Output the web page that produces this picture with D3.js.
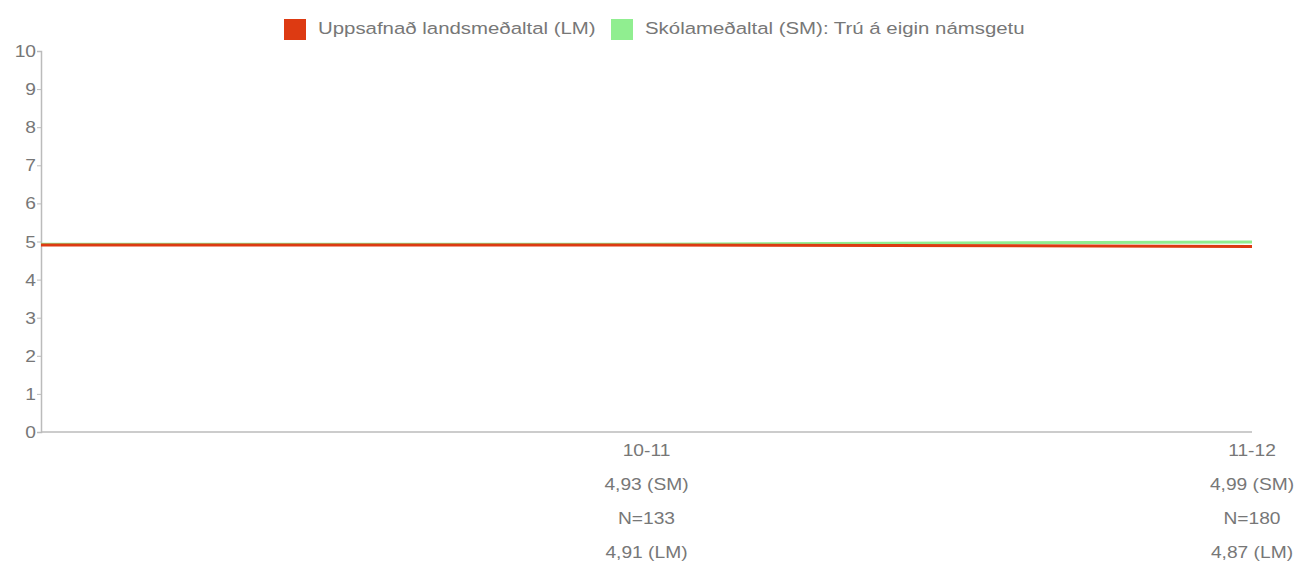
<!DOCTYPE html>
<html>
<head>
<meta charset="utf-8">
<script src="https://cdn.jsdelivr.net/npm/d3@7"></script>
<style>
  body { margin: 0; background: #fff; }
  svg { font-family: "Liberation Sans", Arial, Helvetica, sans-serif; }
</style>
</head>
<body>
<svg id="chart" width="1297" height="563"></svg>
<script>
// first category is an unlabeled lead-in point
const categories = ['', '10-11', '11-12'];
const lmValues = [4.91, 4.91, 4.87];
const smValues = [4.93, 4.93, 4.99];
const nCounts = [null, 133, 180];
const yTicks = [0, 1, 2, 3, 4, 5, 6, 7, 8, 9, 10];
const seriesNames = ['Uppsafnað landsmeðaltal (LM)', 'Skólameðaltal (SM): Trú á eigin námsgetu'];
const seriesColors = ['#dd3a12', '#90ee90'];

const fmt = v => v.toFixed(2).replace('.', ',');

const width = 1297;
const height = 563;
const margin = { top: 51, right: 45, bottom: 131, left: 41 };
const stretch = 1.2; // the source text is drawn a bit wide

const svg = d3.select('#chart');

// text helper, stretched horizontally around its anchor
const addText = (x, y, str, size, anchor) => svg.append('text')
    .attr('transform', `translate(${x},${y}) scale(${stretch},1)`)
    .attr('text-anchor', anchor)
    .attr('fill', '#777')
    .attr('font-size', size)
    .text(str);

const x = d3.scalePoint()
    .domain(categories.map((c, i) => i))
    .range([margin.left, width - margin.right]);

const y = d3.scaleLinear()
    .domain([0, 10])
    .range([height - margin.bottom, margin.top]);

// y axis
const yAxis = svg.append('g')
    .attr('transform', `translate(${margin.left},0)`)
    .call(d3.axisLeft(y).tickValues(yTicks).tickSize(4).tickFormat(''));
yAxis.select('.domain').attr('stroke', '#bbb').attr('stroke-width', 1.5);
yAxis.selectAll('.tick line').attr('stroke', '#bbb');

yTicks.forEach(t => addText(margin.left - 5, y(t) + 6, d3.format('d')(t), 16, 'end'));

// x axis line
svg.append('line')
    .attr('x1', margin.left)
    .attr('x2', x(categories.length - 1))
    .attr('y1', y(0))
    .attr('y2', y(0))
    .attr('stroke', '#bbb')
    .attr('stroke-width', 1.5);

// category labels with values below
categories.forEach((c, i) => {
  if (!c) return;
  const rows = [c, fmt(smValues[i]) + ' (SM)', 'N=' + nCounts[i], fmt(lmValues[i]) + ' (LM)'];
  rows.forEach((t, r) => addText(x(i), y(0) + 24 + r * 34, t, 16, 'middle'));
});

const line = d3.line()
    .x((d, i) => x(i))
    .y(d => y(d));

svg.append('path')
    .datum(smValues)
    .attr('fill', 'none')
    .attr('stroke', seriesColors[1])
    .attr('stroke-width', 3)
    .attr('d', line);

svg.append('path')
    .datum(lmValues)
    .attr('fill', 'none')
    .attr('stroke', seriesColors[0])
    .attr('stroke-width', 3)
    .attr('d', line);

// legend
const legendX = [284, 611];
seriesNames.forEach((name, i) => {
  svg.append('rect')
      .attr('x', legendX[i])
      .attr('y', 19)
      .attr('width', 22)
      .attr('height', 21)
      .attr('fill', seriesColors[i]);
  addText(legendX[i] + 34, 34, name, 17, 'start');
});
</script>
</body>
</html>
